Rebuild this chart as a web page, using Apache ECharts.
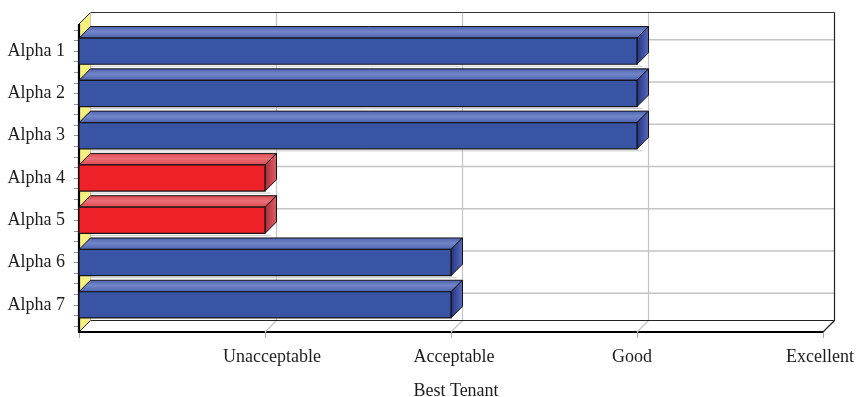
<!DOCTYPE html>
<html>
<head>
<meta charset="utf-8">
<script src="https://cdn.jsdelivr.net/npm/echarts@6/dist/echarts.min.js"></script>
<style>
html,body{margin:0;padding:0;background:#fff;}
#chart{width:856px;height:397px;}
</style>
</head>
<body>
<div id="chart"></div>
<script>
const categories = ['Alpha 1', 'Alpha 2', 'Alpha 3', 'Alpha 4', 'Alpha 5', 'Alpha 6', 'Alpha 7'];
const values = [3, 3, 3, 1, 1, 2, 2];
const tickLabels = ['', 'Unacceptable', 'Acceptable', 'Good', 'Excellent'];
const axisName = 'Best Tenant';

const D = 11.5;   // depth offset
const PAD = 6;    // extra plot margin above/below bands
const FONT = '"Liberation Serif", "DejaVu Serif", serif';
const TEXT = '#1c1c1c';
// small horizontal nudges of the tick labels (px; + = right), as in the original layout
const labelNudge = [0, 7, 3, -5, -3];

const chart = echarts.init(document.getElementById('chart'), null, {renderer: 'canvas'});

function line(x1, y1, x2, y2, stroke, w) {
  return {type: 'line', shape: {x1, y1, x2, y2}, style: {stroke, lineWidth: w}};
}

function renderFrame(params, api) {
  const cs = params.coordSys;
  const L = cs.x, R = cs.x + cs.width;
  const T = cs.y - PAD, B = cs.y + cs.height + PAD;
  const ch = [];
  ch.push({type: 'polygon', shape: {points: [[L + D, T - D], [R + D, T - D], [R + D, B - D], [L + D, B - D]]},
    style: {fill: '#ffffff'}});
  ch.push({type: 'polygon', shape: {points: [[L, T], [L + D, T - D], [L + D, B - D], [L, B]]},
    style: {fill: '#f7f080'}});
  for (let i = 0; i < categories.length; i++) {
    const y = api.coord([0, i])[1] - D;
    ch.push(line(L + D, y, R + D, y, '#c4c4c4', 1.5));
  }
  for (let k = 1; k < tickLabels.length - 1; k++) {
    const x = api.coord([k, 0])[0];
    ch.push(line(x + D, T - D, x + D, B - D, '#c4c4c4', 1.2));
    ch.push(line(x, B, x + D, B - D, '#c4c4c4', 1.2));
  }
  ch.push(line(L + D, T - D, R + D, T - D, '#333', 1));
  ch.push(line(R + D, T - D, R + D, B - D, '#222', 1.2));
  ch.push(line(L + D, B - D, R + D, B - D, '#222', 1.2));
  ch.push(line(R, B, R + D, B - D, '#222', 1.2));
  ch.push(line(L, T, L + D, T - D, '#222', 1));
  ch.push(line(L, B, L + D, B - D, '#222', 1));
  ch.push(line(L + D, T - D, L + D, B - D, '#bbb', 0.8));
  ch.push(line(L, T, L, B + 1, '#000', 2.2));
  return {type: 'group', children: ch};
}

const palettes = {
  blue: {
    front: '#3953a5',
    top: new echarts.graphic.LinearGradient(0, 0, 0, 1, [
      {offset: 0, color: '#4a5fae'}, {offset: 0.45, color: '#7286c8'}, {offset: 1, color: '#4b61b0'}]),
    side: new echarts.graphic.LinearGradient(0, 0, 1, 0, [
      {offset: 0, color: '#22327e'}, {offset: 1, color: '#5b6cc0'}])
  },
  red: {
    front: '#ee2128',
    top: new echarts.graphic.LinearGradient(0, 0, 0, 1, [
      {offset: 0, color: '#d8434c'}, {offset: 0.45, color: '#ec7078'}, {offset: 1, color: '#dd454d'}]),
    side: new echarts.graphic.LinearGradient(0, 0, 1, 0, [
      {offset: 0, color: '#a72c36'}, {offset: 1, color: '#e0606a'}])
  }
};

function renderBar(params, api) {
  const v = api.value(0), i = api.value(1);
  const p0 = api.coord([0, i]), p1 = api.coord([v, i]);
  const h = api.size([0, 1])[1] * 0.62;
  const top = p0[1] - h / 2, bot = p0[1] + h / 2;
  const x0 = p0[0], x1 = p1[0];
  const pal = v <= 1 ? palettes.red : palettes.blue;
  const ch = [];
  if (i < categories.length - 1) {
    ch.push(line(x0 + D, bot + 2, x1 + D * 0.5, bot + 2, '#c8c8c8', 1));
  }
  ch.push({type: 'polygon', shape: {points: [[x0, top], [x0 + D, top - D], [x1 + D, top - D], [x1, top]]},
    style: {fill: pal.top, stroke: '#151515', lineWidth: 1}});
  ch.push({type: 'polygon', shape: {points: [[x1, top], [x1 + D, top - D], [x1 + D, bot - D], [x1, bot]]},
    style: {fill: pal.side, stroke: '#151515', lineWidth: 1}});
  ch.push({type: 'rect', shape: {x: x0, y: top, width: x1 - x0, height: h},
    style: {fill: pal.front, stroke: '#151515', lineWidth: 1.2}});
  return {type: 'group', children: ch};
}

const richLabels = {};
labelNudge.forEach((n, k) => {
  richLabels['t' + k] = {
    fontFamily: FONT, fontSize: 18, color: TEXT,
    padding: n >= 0 ? [0, 0, 0, 2 * n] : [0, -2 * n, 0, 0]
  };
});

const option = {
  animation: false,
  backgroundColor: '#ffffff',
  grid: {left: 79, right: 33, top: 30, bottom: 71, containLabel: false, outerBoundsMode: 'none'},
  xAxis: {
    type: 'value', min: 0, max: tickLabels.length - 1, interval: 1,
    offset: PAD,
    axisLine: {show: true, onZero: false, lineStyle: {color: '#000', width: 2.2}},
    axisTick: {show: true, length: 6, lineStyle: {color: '#aaa', width: 1}},
    splitLine: {show: false},
    axisLabel: {
      formatter: (val) => {
        const k = Math.round(val);
        const t = tickLabels[k] || '';
        return t ? '{t' + k + '|' + t + '}' : '';
      },
      rich: richLabels,
      fontFamily: FONT, fontSize: 18, color: TEXT, margin: 16
    },
    name: axisName, nameLocation: 'middle', nameGap: 50,
    nameTextStyle: {fontFamily: FONT, fontSize: 18, color: TEXT, padding: [0, 0, 0, 10]}
  },
  yAxis: [{
    type: 'category', data: categories, inverse: true,
    axisLine: {show: false, onZero: false},
    axisTick: {show: false},
    axisLabel: {fontFamily: FONT, fontSize: 18, color: TEXT, margin: 14}
  }, {
    type: 'value', min: 0, max: categories.length * 4, interval: 1, inverse: true,
    position: 'left',
    axisLine: {show: false, onZero: false},
    axisTick: {show: true, length: 5, lineStyle: {color: '#999', width: 1}},
    axisLabel: {show: false},
    splitLine: {show: false}
  }],
  series: [{
    type: 'custom', coordinateSystem: 'cartesian2d', clip: false, z: 1, silent: true,
    renderItem: renderFrame, data: [[0, 0]], encode: {x: 0, y: 1}
  }, {
    type: 'custom', coordinateSystem: 'cartesian2d', clip: false, z: 3,
    renderItem: renderBar,
    data: values.map((v, i) => [v, i]),
    encode: {x: 0, y: 1}
  }]
};
chart.setOption(option);
</script>
</body>
</html>
